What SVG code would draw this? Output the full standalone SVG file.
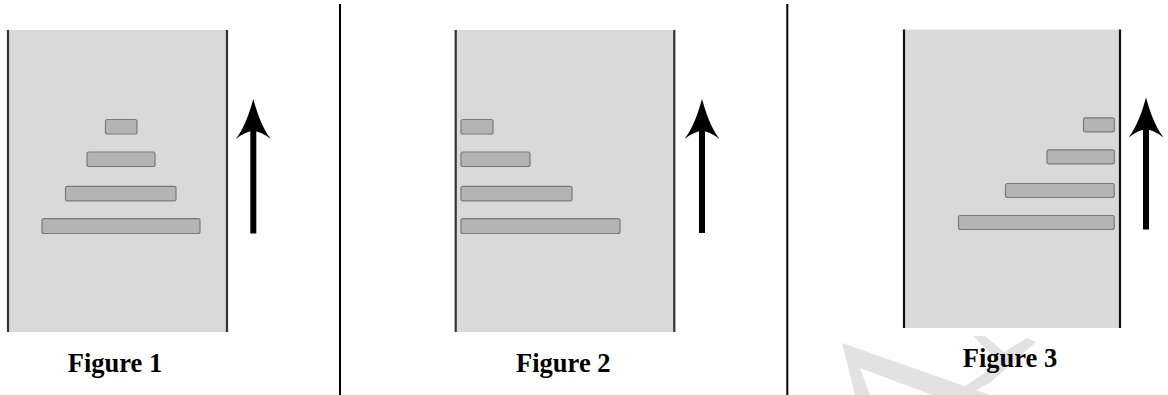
<svg xmlns="http://www.w3.org/2000/svg" width="1168" height="395" viewBox="0 0 1168 395">
<defs>
<style>
.panel{fill:#d9d9d9;stroke:none}
.wall{stroke:#333;stroke-width:2.2;fill:none}
.bar{fill:#b4b4b4;stroke:#7a7a7a;stroke-width:1.2}
.sep{stroke:#000;stroke-width:2;fill:none}
.shaft{fill:#000}
.cap{font-family:"Liberation Serif","Times New Roman",serif;font-weight:bold;font-size:26.5px;fill:#000;text-anchor:middle}
.wm{fill:#e2e2e2;stroke:none}
</style>
<path id="head" d="M0,0 C4,14 8.5,28 17.5,40 Q7,32 0,32 Q-7,32 -17.5,40 C-8.5,28 -4,14 0,0 Z" fill="#000"/>
</defs>
<rect width="1168" height="395" fill="#fff"/>
<g id="watermark">
<polygon class="wm" points="842,343 990,395 932,395 860,368 870,395 855,395"/>
<polygon class="wm" points="973,336 985,336 1004,352 1027,338 1036,342 992,381 968,395 952,395 986,372 998,361"/>
</g>
<g id="separators">
<line class="sep" x1="340" y1="4" x2="340" y2="395"/>
<line class="sep" x1="787.3" y1="4" x2="787.3" y2="395"/>
</g>
<g id="figure1">
<rect class="panel" x="8" y="30" width="219" height="302"/>
<line class="wall" x1="8" y1="30" x2="8" y2="332"/>
<line class="wall" x1="227" y1="30" x2="227" y2="332"/>
<rect class="bar" x="105.5" y="119.5" width="31.5" height="14.5" rx="2"/>
<rect class="bar" x="87" y="152" width="68" height="14.5" rx="2"/>
<rect class="bar" x="65.5" y="186.3" width="110.5" height="14.5" rx="2"/>
<rect class="bar" x="42" y="218.7" width="158" height="14.8" rx="2"/>
<g id="arrow1">
<use href="#head" x="253.3" y="99"/>
<rect class="shaft" x="250.3" y="128" width="6" height="105.5"/>
</g>
<text class="cap" x="115" y="372">Figure 1</text>
</g>
<g id="figure2">
<rect class="panel" x="455.7" y="30" width="218.6" height="302"/>
<line class="wall" x1="455.7" y1="30" x2="455.7" y2="332"/>
<line class="wall" x1="674.3" y1="30" x2="674.3" y2="332"/>
<rect class="bar" x="461" y="119.5" width="32" height="14.5" rx="2"/>
<rect class="bar" x="461" y="152" width="69" height="14.5" rx="2"/>
<rect class="bar" x="461" y="186.3" width="111" height="14.5" rx="2"/>
<rect class="bar" x="461" y="218.7" width="159" height="14.8" rx="2"/>
<g id="arrow2">
<use href="#head" x="702" y="99"/>
<rect class="shaft" x="699" y="128" width="6" height="105"/>
</g>
<text class="cap" x="563.3" y="372">Figure 2</text>
</g>
<g id="figure3">
<rect class="panel" x="904" y="29.5" width="216" height="298.5"/>
<line class="wall" x1="904" y1="29.5" x2="904" y2="328" style="stroke:#111"/>
<line class="wall" x1="1120" y1="29.5" x2="1120" y2="328" style="stroke:#111"/>
<rect class="bar" x="1083.5" y="117.8" width="30.8" height="14" rx="2"/>
<rect class="bar" x="1047" y="149.8" width="67.3" height="14" rx="2"/>
<rect class="bar" x="1005.5" y="183.5" width="108.8" height="14" rx="2"/>
<rect class="bar" x="958.5" y="215.5" width="155.8" height="14" rx="2"/>
<g id="arrow3">
<use href="#head" x="1146" y="97.5"/>
<rect class="shaft" x="1143" y="126" width="6" height="103.5"/>
</g>
<text class="cap" x="1010" y="367">Figure 3</text>
</g>
</svg>
